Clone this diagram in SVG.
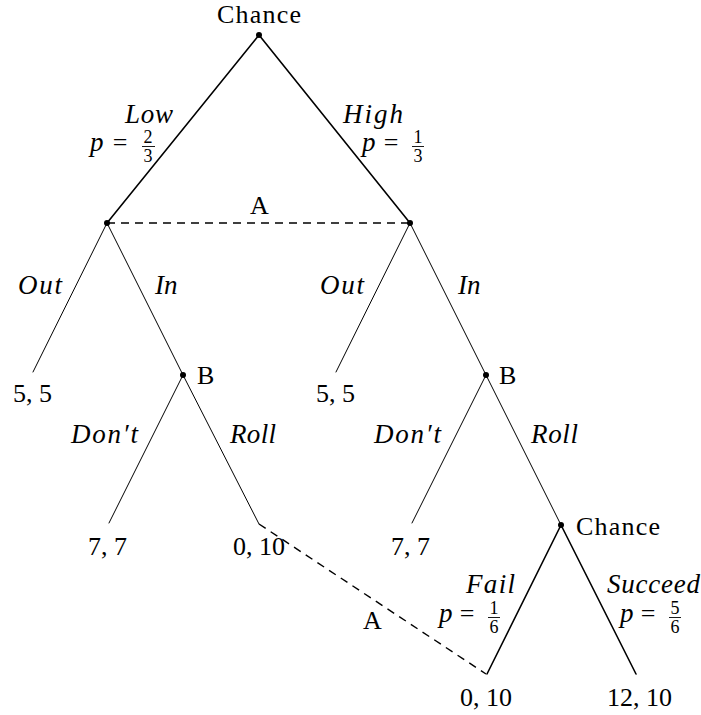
<svg xmlns="http://www.w3.org/2000/svg" width="701" height="715" viewBox="0 0 701 715" font-family="'Liberation Serif', 'DejaVu Serif', serif">
<style>
  text { font-family: "Liberation Serif", "DejaVu Serif", serif; font-size: 26px; fill: #000; }
  .it { font-style: italic; font-size: 27px; }
  .fr { font-size: 18px; }
  .mid { text-anchor: middle; }
  .edge { stroke: #000; stroke-width: 1; fill: none; stroke-linecap: round; }
  .chance { stroke-width: 1.6; }
  .info { stroke: #000; stroke-width: 1.4; fill: none; stroke-dasharray: 8 6; }
  .bar { stroke: #000; stroke-width: 0.9; }
  .dot { fill: #000; }
</style>
<rect width="701" height="715" fill="#fff"/>
<g id="connectors">
  <line class="edge chance" x1="259" y1="35" x2="107" y2="223"/>
  <line class="edge chance" x1="259" y1="35" x2="410" y2="223"/>
  <line class="edge" x1="107" y1="223" x2="33" y2="372"/>
  <line class="edge" x1="107" y1="223" x2="183" y2="375"/>
  <line class="edge" x1="410" y1="223" x2="336" y2="372"/>
  <line class="edge" x1="410" y1="223" x2="486" y2="375"/>
  <line class="edge" x1="183" y1="375" x2="109" y2="523"/>
  <line class="edge" x1="183" y1="375" x2="259" y2="524"/>
  <line class="edge" x1="486" y1="375" x2="412" y2="523"/>
  <line class="edge" x1="486" y1="375" x2="561" y2="525"/>
  <line class="edge chance" x1="561" y1="525" x2="487" y2="674"/>
  <line class="edge chance" x1="561" y1="525" x2="636" y2="674"/>
  <line class="info" x1="107" y1="223" x2="410" y2="223"/>
  <line class="info" x1="259" y1="524" x2="486" y2="674"/>
</g>
<g id="edge-labels">
  <text class="it" x="125" y="123" textLength="48" lengthAdjust="spacing">Low</text>
  <text class="it" x="90" y="151">p</text>
  <text class="mid" x="120" y="151">=</text>
  <text class="fr mid" x="148" y="143">2</text>
  <line class="bar" x1="142" y1="146.5" x2="155" y2="146.5"/>
  <text class="fr mid" x="148" y="162">3</text>

  <text class="it" x="343" y="123" textLength="60" lengthAdjust="spacing">High</text>
  <text class="it" x="362" y="151">p</text>
  <text class="mid" x="391" y="151">=</text>
  <text class="fr mid" x="418" y="143">1</text>
  <line class="bar" x1="412" y1="146.5" x2="424" y2="146.5"/>
  <text class="fr mid" x="418" y="162">3</text>

  <text class="it" x="18" y="294" textLength="44" lengthAdjust="spacing">Out</text>
  <text class="it" x="155" y="294">In</text>
  <text class="it" x="320" y="294" textLength="44" lengthAdjust="spacing">Out</text>
  <text class="it" x="458" y="294">In</text>

  <text class="it" x="71" y="443" textLength="67" lengthAdjust="spacing">Don′t</text>
  <text class="it" x="230" y="443" textLength="46" lengthAdjust="spacing">Roll</text>
  <text class="it" x="374" y="443" textLength="67" lengthAdjust="spacing">Don′t</text>
  <text class="it" x="531" y="443" textLength="47" lengthAdjust="spacing">Roll</text>

  <text class="it" x="466" y="593" textLength="49" lengthAdjust="spacing">Fail</text>
  <text class="it" x="439" y="622">p</text>
  <text class="mid" x="467" y="622">=</text>
  <text class="fr mid" x="494" y="614">1</text>
  <line class="bar" x1="488" y1="617.5" x2="500" y2="617.5"/>
  <text class="fr mid" x="494" y="633">6</text>

  <text class="it" x="607" y="593" textLength="93" lengthAdjust="spacing">Succeed</text>
  <text class="it" x="620" y="622">p</text>
  <text class="mid" x="648" y="622">=</text>
  <text class="fr mid" x="675" y="614">5</text>
  <line class="bar" x1="669" y1="617.5" x2="681" y2="617.5"/>
  <text class="fr mid" x="675" y="633">6</text>

  <text x="363" y="629">A</text>
</g>
<g id="n-root">
  <circle class="dot" cx="259" cy="35" r="3"/>
  <text class="mid" x="259" y="23" textLength="84" lengthAdjust="spacing">Chance</text>
</g>
<g id="n-a-low">
  <circle class="dot" cx="107" cy="223" r="3"/>
</g>
<g id="n-a-high">
  <circle class="dot" cx="410" cy="223" r="3"/>
</g>
<g id="info-a-label">
  <text class="mid" x="259.5" y="214">A</text>
</g>
<g id="n-out-low"><text x="13" y="402">5, 5</text></g>
<g id="n-b-low">
  <circle class="dot" cx="183" cy="375" r="3"/>
  <text x="197" y="384">B</text>
</g>
<g id="n-out-high"><text x="316" y="402">5, 5</text></g>
<g id="n-b-high">
  <circle class="dot" cx="486" cy="375" r="3"/>
  <text x="499" y="384">B</text>
</g>
<g id="n-dont-low"><text x="88" y="555">7, 7</text></g>
<g id="n-roll-low"><text x="233" y="555">0, 10</text></g>
<g id="n-dont-high"><text x="391" y="555">7, 7</text></g>
<g id="n-chance2">
  <circle class="dot" cx="561" cy="525" r="3"/>
  <text x="576" y="535" textLength="84" lengthAdjust="spacing">Chance</text>
</g>
<g id="n-fail"><text x="460" y="706">0, 10</text></g>
<g id="n-succeed"><text x="607" y="706">12, 10</text></g>
</svg>
